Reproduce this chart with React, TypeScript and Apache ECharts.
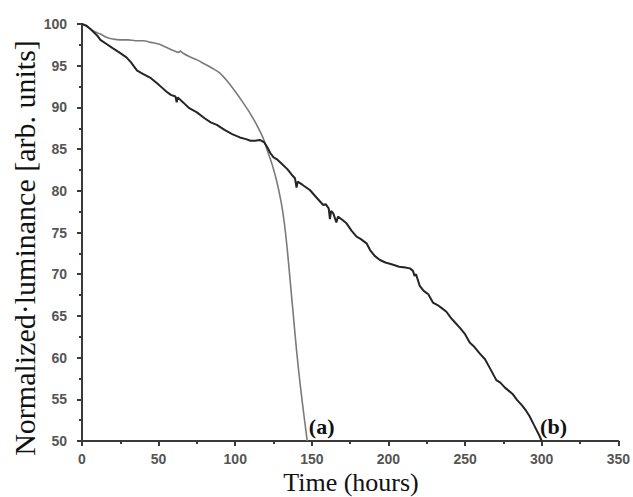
import React, { useEffect, useRef } from "react";
import * as echarts from "echarts";

// Time (hours) and normalized luminance for device (a) and device (b)
const timeA = [0, 4, 8, 12, 16, 20, 25, 30, 35, 40, 45, 50, 55, 60, 63, 64, 66, 70, 75, 80, 85, 90, 95, 100, 105, 110, 114, 118, 121, 124, 127, 130, 132, 134, 136, 138, 140, 142, 144, 146, 147];
const lumA = [100, 99.6, 99.1, 98.8, 98.4, 98.2, 98.1, 98.1, 98.0, 98.0, 97.8, 97.6, 97.2, 96.8, 96.6, 96.75, 96.5, 96.1, 95.7, 95.2, 94.7, 94.1, 93.1, 91.9, 90.6, 89.2, 87.9, 86.4, 84.8, 83.2, 81.2, 78.6, 76.2, 72.9, 68.9, 64.9, 60.9, 57.4, 54.3, 51.4, 50];

const timeB = [0, 3, 6, 10, 12, 16, 20, 25, 29, 32, 34, 36, 40, 45, 49, 52, 55, 58, 61, 61.8, 62.5, 66, 70, 75, 80, 84, 88, 93, 98, 103, 107, 110, 113, 116, 119, 121, 123, 125, 127, 130, 134, 137, 139, 140, 140.8, 141.5, 144, 148.7, 153, 157.4, 159, 161, 161.8, 162.6, 164, 166, 167, 170, 172.6, 176, 179.2, 182, 185.7, 188, 191, 194.4, 198, 202, 207, 211, 214, 216, 217, 218, 220.4, 223, 226, 229, 232, 235, 237.8, 241, 243, 246.5, 250, 253, 256, 259.5, 263, 266, 270.4, 273, 276, 278, 281.2, 284, 287, 289.9, 292, 295, 298.6, 300];
const lumB = [100, 99.8, 99.3, 98.6, 98.1, 97.6, 97.1, 96.5, 96.0, 95.4, 94.9, 94.4, 94.0, 93.5, 92.9, 92.4, 91.9, 91.5, 91.3, 90.6, 91.2, 90.6, 89.9, 89.4, 88.7, 88.2, 87.9, 87.3, 86.8, 86.4, 86.2, 86.0, 86.0, 86.1, 85.8, 85.2, 84.5, 84.0, 83.8, 83.3, 82.6, 81.9, 81.5, 80.4, 81.1, 81.0, 80.7, 80.1, 79.2, 78.3, 78.4, 77.9, 76.6, 77.6, 77.3, 76.2, 76.9, 76.5, 76.1, 75.2, 74.5, 74.2, 73.7, 72.9, 72.2, 71.7, 71.4, 71.2, 70.9, 70.8, 70.7, 70.4, 69.8, 70.0, 68.6, 68.0, 67.6, 66.6, 66.3, 65.9, 65.5, 64.7, 64.3, 63.6, 62.8, 61.8, 61.3, 60.5, 59.8, 58.8, 57.3, 57.0, 56.4, 56.1, 55.6, 54.9, 54.3, 53.6, 53.0, 51.9, 50.6, 50];

const xTicks = { min: 0, max: 350, interval: 50 };
const yTicks = { min: 50, max: 100, interval: 5 };

const annotations = [
  { text: "(a)", x: 156.4, y: 51.7 },
  { text: "(b)", x: 307.7, y: 51.7 },
];

const xTitle = "Time (hours)";
const yTitle = "Normalized·luminance [arb. units]";

export default function App() {
  const ref = useRef<HTMLDivElement>(null);
  useEffect(() => {
    if (!ref.current) return;
    const chart = echarts.init(ref.current, null, { renderer: "svg" });
    const axisColor = "#3a3a3a";
    const labelStyle = {
      color: "#555",
      fontFamily: "Liberation Sans, Arial, sans-serif",
      fontWeight: "bold" as const,
      fontSize: 14,
    };
    chart.setOption({
      animation: false,
      backgroundColor: "#fff",
      grid: { left: 82, right: 14, top: 24, bottom: 56, containLabel: false },
      xAxis: {
        type: "value",
        min: xTicks.min,
        max: xTicks.max,
        interval: xTicks.interval,
        axisLine: { show: true, lineStyle: { color: axisColor, width: 2 } },
        axisTick: { show: true, inside: false, length: 5, lineStyle: { color: axisColor, width: 2 } },
        minorTick: { show: true, splitNumber: 2, length: 3, lineStyle: { color: axisColor, width: 2 } },
        splitLine: { show: false },
        axisLabel: { ...labelStyle, margin: 11, lineHeight: 14 },
      },
      yAxis: {
        type: "value",
        min: yTicks.min,
        max: yTicks.max,
        interval: yTicks.interval,
        axisLine: { show: true, lineStyle: { color: axisColor, width: 2 } },
        axisTick: { show: true, inside: false, length: 5, lineStyle: { color: axisColor, width: 2 } },
        minorTick: { show: true, splitNumber: 2, length: 3, lineStyle: { color: axisColor, width: 2 } },
        splitLine: { show: false },
        axisLabel: { ...labelStyle, margin: 15 },
      },
      series: [
        {
          name: "(a)",
          type: "line",
          data: timeA.map((t, i) => [t, lumA[i]]),
          showSymbol: false,
          smooth: 0.3,
          lineStyle: { color: "#7a7a7a", width: 1.6 },
          z: 2,
        },
        {
          name: "(b)",
          type: "line",
          data: timeB.map((t, i) => [t, lumB[i]]),
          showSymbol: false,
          lineStyle: { color: "#252525", width: 2 },
          z: 3,
        },
      ],
    });
    const graphics: any[] = annotations.map((a) => {
      const [px, py] = chart.convertToPixel({ gridIndex: 0 }, [a.x, a.y]) as number[];
      return {
        type: "text",
        x: px,
        y: py,
        style: {
          text: a.text,
          font: 'bold 22px "Liberation Serif", "Times New Roman", serif',
          fill: "#111",
          textAlign: "center",
          textVerticalAlign: "middle",
        },
        z: 10,
      };
    });
    graphics.push({
      type: "text",
      x: 351,
      y: 482,
      style: {
        text: xTitle,
        font: '26px "Liberation Serif", "Times New Roman", serif',
        fill: "#111",
        textAlign: "center",
        textVerticalAlign: "middle",
      },
    });
    graphics.push({
      type: "text",
      x: 24,
      y: 248,
      rotation: Math.PI / 2,
      style: {
        text: yTitle,
        font: '30px "Liberation Serif", "Times New Roman", serif',
        fill: "#111",
        textAlign: "center",
        textVerticalAlign: "middle",
      },
    });
    chart.setOption({ graphic: graphics });
    return () => chart.dispose();
  }, []);
  return (
    <div
      ref={ref}
      style={{ position: "fixed", left: 0, top: 0, width: 633, height: 497 }}
    />
  );
}
